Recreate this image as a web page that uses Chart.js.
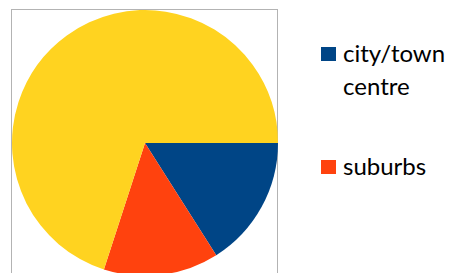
<!DOCTYPE html>
<html lang="en">
<head>
    <meta charset="UTF-8">
    <title>Pie</title>
    <script src="https://cdn.jsdelivr.net/npm/chart.js"></script>
    <style>
        body { margin: 0; background: #ffffff; }
        .frame { position: relative; width: 454px; height: 273px; overflow: hidden; }
        .pie-box { position: absolute; left: 0; top: 0; width: 290px; height: 290px; }
        .item { position: absolute; left: 321px; font-family: 'Lato', sans-serif; font-size: 24px; color: #000; }
        .item .swatch { position: absolute; left: 0; width: 15px; height: 14px; top: 11px; }
        .item .label { position: absolute; left: 22px; top: 0; line-height: 33px; white-space: nowrap; }
    </style>
</head>
<body>
    <div class="frame">
        <div class="pie-box"><canvas id="pie"></canvas></div>
        <div id="legend"></div>
    </div>

    <script>
        // categories and shares (%)
        const categories = ['city/town centre', 'suburbs', 'rural'];
        const shares = [16, 14, 70];
        const colours = ['#004586', '#ff420e', '#ffd320'];
        const legendLines = [['city/town', 'centre'], ['suburbs']];
        const legendTops = [36, 149];

        // grey frame around the plot area
        const frameBox = {
            id: 'frameBox',
            beforeDraw(chart) {
                const a = chart.chartArea;
                const c = chart.ctx;
                c.save();
                c.strokeStyle = '#b3b3b3';
                c.lineWidth = 1;
                c.strokeRect(a.left - 0.5, a.top - 0.5, a.right - a.left, 400);
                c.restore();
            }
        };

        new Chart(document.getElementById('pie'), {
            type: 'pie',
            data: {
                labels: categories,
                datasets: [{
                    data: shares,
                    backgroundColor: colours,
                    borderWidth: 0,
                    hoverOffset: 0
                }]
            },
            options: {
                responsive: true,
                maintainAspectRatio: false,
                animation: false,
                rotation: 90,
                layout: { padding: { left: 12, top: 10, right: 12, bottom: 14 } },
                plugins: { legend: { display: false }, tooltip: { enabled: false } }
            },
            plugins: [frameBox]
        });

        // legend only shows the first two entries (third is off the crop)
        const legend = document.getElementById('legend');
        legendLines.forEach((lines, i) => {
            legend.innerHTML += `<div class="item" style="top:${legendTops[i]}px"><span class="swatch" style="background:${colours[i]}"></span><span class="label">${lines.join('<br>')}</span></div>`;
        });
    </script>
</body>
</html>
